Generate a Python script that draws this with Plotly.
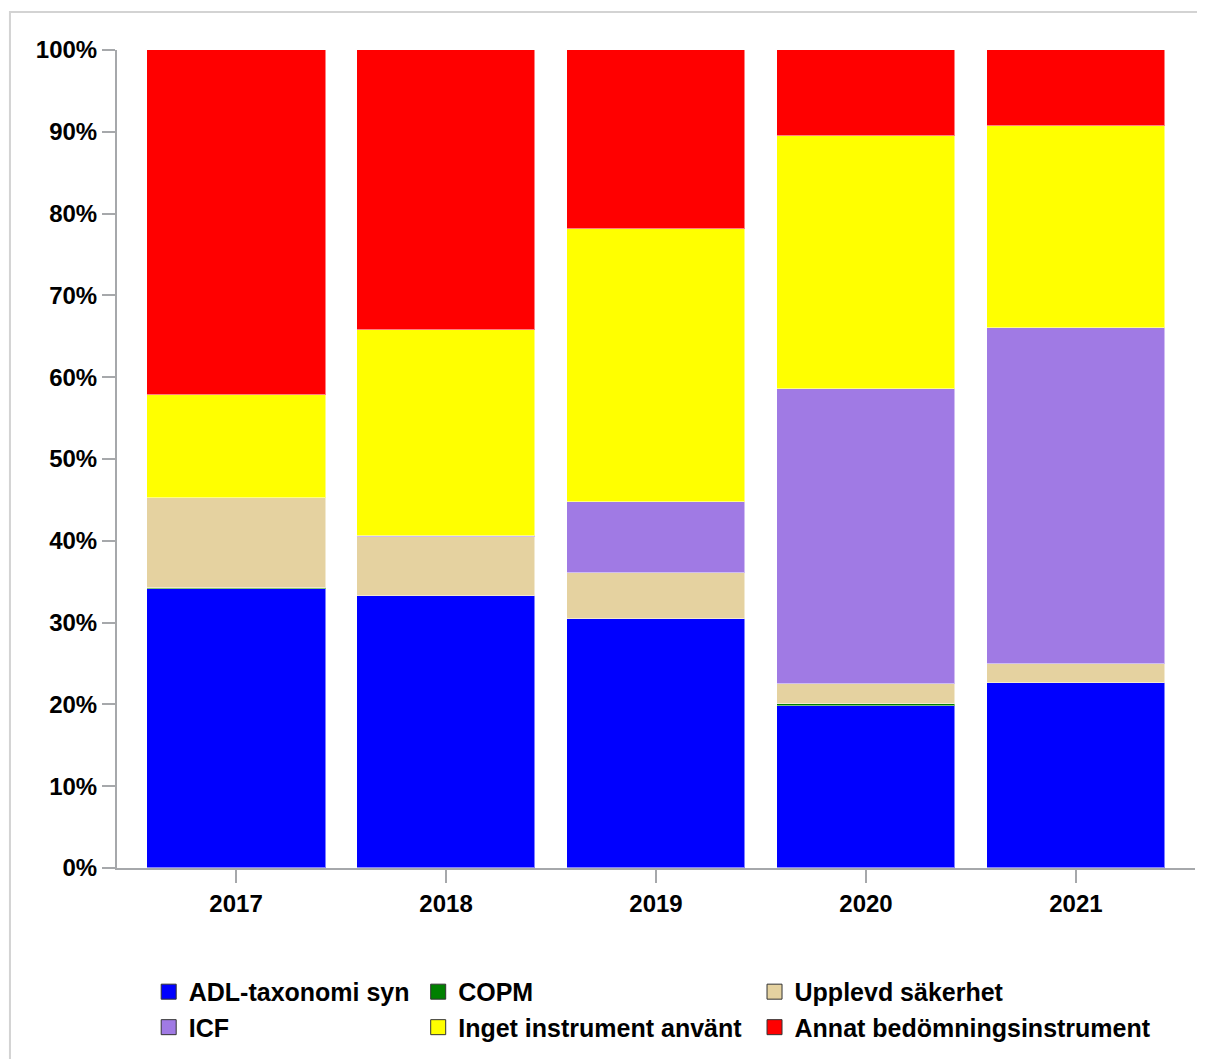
import plotly.graph_objects as go

# andel (%) per år och bedömningsinstrument
years = ["2017", "2018", "2019", "2020", "2021"]

adl_taxonomi = [34.1, 33.2, 30.4, 19.8, 22.6]
copm = [0.1, 0.0, 0.0, 0.2, 0.0]
upplevd_sakerhet = [11.0, 7.3, 5.7, 2.5, 2.3]
icf = [0.0, 0.1, 8.6, 36.0, 41.1]
inget_instrument = [12.6, 25.2, 33.4, 31.0, 24.7]
annat_instrument = [42.2, 34.2, 21.9, 10.5, 9.3]

series = [
    ("ADL-taxonomi syn", adl_taxonomi, "#0000FF"),
    ("COPM", copm, "#008000"),
    ("Upplevd säkerhet", upplevd_sakerhet, "#E5D2A0"),
    ("ICF", icf, "#A07AE4"),
    ("Inget instrument använt", inget_instrument, "#FFFF00"),
    ("Annat bedömningsinstrument", annat_instrument, "#FF0000"),
]

# which legend column each series goes into, and its row
legend_slot = {
    "ADL-taxonomi syn": ("legend", 1),
    "ICF": ("legend", 2),
    "COPM": ("legend2", 1),
    "Inget instrument använt": ("legend2", 2),
    "Upplevd säkerhet": ("legend3", 1),
    "Annat bedömningsinstrument": ("legend3", 2),
}

FONT = "Liberation Sans, Arial, sans-serif"
AXIS_GREY = "#A6A8AB"

fig = go.Figure()

for name, values, color in series:
    fig.add_trace(go.Bar(
        x=years,
        y=values,
        name=name,
        marker=dict(color=color, line=dict(color="rgba(255,255,255,0.5)", width=1)),
        width=0.852,
        showlegend=False,
    ))

# legend entries (square markers with dark outline)
for name, values, color in series:
    slot, rank = legend_slot[name]
    fig.add_trace(go.Scatter(
        x=[None], y=[None],
        mode="markers",
        name=name,
        marker=dict(symbol="square", size=15, color=color,
                    line=dict(color="#333333", width=1)),
        legend=slot,
        legendrank=rank,
    ))

legend_common = dict(
    orientation="v",
    traceorder="normal",
    yanchor="top",
    y=-0.122,
    font=dict(family=FONT, size=25, color="black", weight="bold"),
    bgcolor="rgba(0,0,0,0)",
    tracegroupgap=0,
    itemsizing="trace",
)

tick_font = dict(family=FONT, size=24, color="black", weight="bold")

# the page body has an 8px margin, so the figure is 8px smaller than the window
fig.update_layout(
    width=1197,
    height=1051,
    margin=dict(l=109, r=10, t=42, b=190),
    barmode="stack",
    plot_bgcolor="white",
    paper_bgcolor="white",
    bargap=0,
    legend=dict(x=0.0294, xanchor="left", **legend_common),
    legend2=dict(x=0.2794, xanchor="left", **legend_common),
    legend3=dict(x=0.5914, xanchor="left", **legend_common),
    xaxis=dict(
        type="category",
        range=[-0.567, 4.567],
        showgrid=False,
        showline=True,
        linecolor=AXIS_GREY,
        linewidth=2,
        ticks="outside",
        ticklen=13,
        tickwidth=2,
        tickcolor=AXIS_GREY,
        tickfont=tick_font,
    ),
    yaxis=dict(
        range=[0, 100],
        dtick=10,
        ticksuffix="%",
        showgrid=False,
        zeroline=False,
        showline=True,
        linecolor=AXIS_GREY,
        linewidth=2,
        ticks="outside",
        ticklen=13,
        tickwidth=2,
        tickcolor=AXIS_GREY,
        tickfont=tick_font,
    ),
    shapes=[dict(
        type="rect", xref="paper", yref="paper",
        x0=-0.0993, x1=1.05, y0=-0.4, y1=1.0464,
        line=dict(color="#D3D3D3", width=2),
        fillcolor="rgba(0,0,0,0)",
        layer="below",
    )],
)

fig.write_html("out.html")
